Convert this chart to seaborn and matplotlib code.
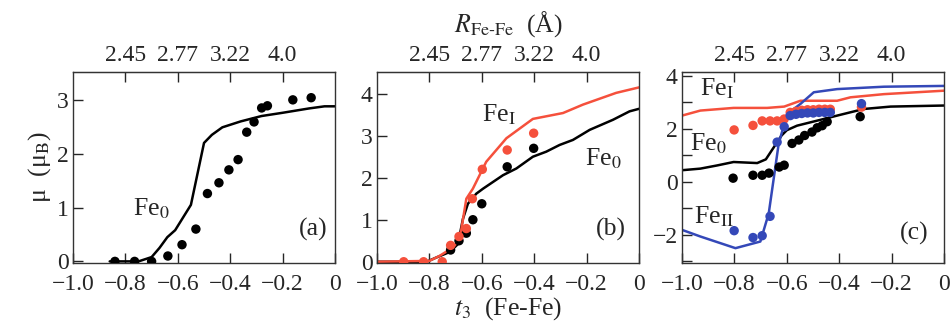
import matplotlib
matplotlib.use('Agg')
import matplotlib.pyplot as plt
import seaborn as sns

# ---------------- data ----------------
top_ticks = [-0.8, -0.6, -0.4, -0.2]
top_labels = ['2.45', '2.77', '3.22', '4.0']

# (a)
a_line_t = [-0.86, -0.75, -0.70, -0.67, -0.64, -0.61, -0.55, -0.50, -0.47, -0.43,
            -0.36, -0.28, -0.20, -0.10, -0.04, 0.0]
a_line_mu = [0, 0, 0.08, 0.25, 0.45, 0.58, 1.05, 2.2, 2.35, 2.49,
             2.6, 2.7, 2.76, 2.84, 2.88, 2.88]
a_dot_t = [-0.84, -0.765, -0.70, -0.638, -0.584, -0.531, -0.487, -0.443, -0.405,
           -0.370, -0.337, -0.309, -0.280, -0.258, -0.161, -0.091]
a_dot_mu = [0, 0, 0, 0.1, 0.31, 0.6, 1.26, 1.46, 1.70, 1.89, 2.40, 2.59, 2.85,
            2.89, 3.0, 3.04]

# (b)
b_red_line_t = [-1.0, -0.8, -0.761, -0.71, -0.684, -0.659, -0.634, -0.583, -0.506,
                -0.405, -0.29, -0.214, -0.087, 0.0]
b_red_line_mu = [0.0, 0.02, 0.14, 0.34, 0.54, 1.5, 1.74, 2.38, 2.94, 3.4, 3.54,
                 3.74, 4.02, 4.15]
b_blk_line_t = [-1.0, -0.81, -0.774, -0.723, -0.691, -0.672, -0.653, -0.621, -0.595,
                -0.519, -0.468, -0.405, -0.354, -0.303, -0.252, -0.188, -0.099,
                -0.036, 0.0]
b_blk_line_mu = [0.0, 0.0, 0.1, 0.23, 0.42, 1.02, 1.38, 1.62, 1.74, 2.06, 2.22,
                 2.5, 2.62, 2.78, 2.9, 3.14, 3.38, 3.58, 3.64]
b_red_dot_t = [-0.898, -0.822, -0.751, -0.719, -0.687, -0.659, -0.636, -0.598,
               -0.503, -0.402]
b_red_dot_mu = [0, 0, 0, 0.39, 0.6, 0.79, 1.5, 2.2, 2.66, 3.06]
b_blk_dot_t = [-0.719, -0.687, -0.659, -0.634, -0.600, -0.503, -0.402]
b_blk_dot_mu = [0.28, 0.5, 0.68, 1.0, 1.38, 2.26, 2.7]

# (c)
c_red_line_t = [-1.0, -0.93, -0.803, -0.675, -0.61, -0.548, -0.484, -0.408, -0.357,
                -0.229, 0.0]
c_red_line_mu = [2.5, 2.69, 2.79, 2.79, 2.84, 3.06, 3.06, 3.06, 3.19, 3.31, 3.44]
c_blue_line_t = [-1.0, -0.93, -0.796, -0.701, -0.669, -0.631, -0.599, -0.548,
                 -0.497, -0.408, -0.229, 0.0]
c_blue_line_mu = [-1.81, -2.06, -2.5, -2.25, -1.19, 1.44, 2.56, 2.94, 3.38, 3.5,
                  3.59, 3.62]
c_blk_line_t = [-1.0, -0.93, -0.866, -0.803, -0.713, -0.68, -0.65, -0.62, -0.6,
                -0.561, -0.484, -0.408, -0.306, -0.204, 0.0]
c_blk_line_mu = [0.44, 0.5, 0.62, 0.75, 0.71, 0.85, 1.3, 1.75, 1.95, 2.12, 2.31,
                 2.5, 2.75, 2.84, 2.88]
c_dot_t = [-0.801, -0.729, -0.694, -0.664, -0.637, -0.61, -0.587, -0.565, -0.543,
           -0.521, -0.499, -0.477, -0.455, -0.434, -0.315]
c_red_dot_mu = [1.96, 2.13, 2.3, 2.3, 2.3, 2.37, 2.62, 2.66, 2.7, 2.72, 2.72, 2.74,
                2.74, 2.74, 2.82]
c_blue_dot_mu = [-1.84, -2.1, -2.03, -1.3, 1.5, 2.08, 2.5, 2.55, 2.58, 2.6, 2.6,
                 2.62, 2.62, 2.62, 2.95]
c_blk_dot_t = [-0.805, -0.729, -0.694, -0.668, -0.629, -0.610, -0.58, -0.554,
               -0.532, -0.504, -0.484, -0.465, -0.446, -0.32]
c_blk_dot_mu = [0.14, 0.25, 0.25, 0.33, 0.56, 0.63, 1.45, 1.58, 1.75, 1.88, 2.04,
                2.12, 2.27, 2.46]

RED = '#f5503c'
BLUE = '#3448b8'
BLK = 'black'
TICK_FS = 17
LAB_FS = 18.5

sns.set_style('ticks')
plt.rcParams['font.family'] = ['Liberation Serif', 'DejaVu Serif']
plt.rcParams['mathtext.fontset'] = 'stix'

fig = plt.figure(figsize=(9.52, 3.33), dpi=100)
w, h, bot = 0.2752, 0.574, 0.2102
ax_a = fig.add_axes([0.0767, bot, w, h])
ax_b = fig.add_axes([0.396, bot, w, h])
ax_c = fig.add_axes([0.7164, bot, w, h])


def line(ax, t, mu, color):
    sns.lineplot(x=t, y=mu, ax=ax, color=color, lw=1.8, sort=False, zorder=2)


def dots(ax, t, mu, color):
    sns.scatterplot(x=t, y=mu, ax=ax, color=color, s=46, edgecolor='none',
                    linewidth=0, zorder=3)


# (a)
line(ax_a, a_line_t, a_line_mu, BLK)
dots(ax_a, a_dot_t, a_dot_mu, BLK)
ax_a.set_ylim(-0.03, 3.52)
ax_a.set_yticks([0, 1, 2, 3])
ax_a.set_yticklabels(['0', '1', '2', '3'])
ax_a.text(-0.77, 0.97, r'Fe$_0$', fontsize=LAB_FS, va='center')
ax_a.text(-0.03, 0.6, '(a)', fontsize=LAB_FS, va='center', ha='right')
ax_a.set_ylabel(r'μ  (μ$_{\rm B}$)', fontsize=LAB_FS, labelpad=3)

# (b)
line(ax_b, b_blk_line_t, b_blk_line_mu, BLK)
line(ax_b, b_red_line_t, b_red_line_mu, RED)
dots(ax_b, b_blk_dot_t, b_blk_dot_mu, BLK)
dots(ax_b, b_red_dot_t, b_red_dot_mu, RED)
ax_b.set_ylim(-0.03, 4.52)
ax_b.set_yticks([0, 1, 2, 3, 4])
ax_b.set_yticklabels(['0', '1', '2', '3', '4'])
ax_b.text(-0.60, 3.5, r'Fe$_{\rm I}$', fontsize=LAB_FS, va='center')
ax_b.text(-0.205, 2.46, r'Fe$_0$', fontsize=LAB_FS, va='center')
ax_b.text(-0.05, 0.78, '(b)', fontsize=LAB_FS, va='center', ha='right')
ax_b.set_xlabel(r'$t_3$  (Fe-Fe)', fontsize=LAB_FS, labelpad=0)

# (c)
line(ax_c, c_blk_line_t, c_blk_line_mu, BLK)
line(ax_c, c_red_line_t, c_red_line_mu, RED)
line(ax_c, c_blue_line_t, c_blue_line_mu, BLUE)
dots(ax_c, c_blk_dot_t, c_blk_dot_mu, BLK)
dots(ax_c, c_dot_t, c_red_dot_mu, RED)
dots(ax_c, c_dot_t, c_blue_dot_mu, BLUE)
ax_c.set_ylim(-3.06, 4.15)
ax_c.set_yticks([-3, -2, -1, 0, 1, 2, 3, 4])
ax_c.set_yticklabels(['', '−2', '', '0', '', '2', '', '4'])
ax_c.text(-0.932, 3.5, r'Fe$_{\rm I}$', fontsize=LAB_FS, va='center')
ax_c.text(-0.968, 1.44, r'Fe$_0$', fontsize=LAB_FS, va='center')
ax_c.text(-0.955, -1.31, r'Fe$_{\rm II}$', fontsize=LAB_FS, va='center')
ax_c.text(-0.06, -1.94, '(c)', fontsize=LAB_FS, va='center', ha='right')

for ax in (ax_a, ax_b, ax_c):
    ax.set_xlim(-1.0, 0.0)
    ax.set_xticks([-1.0, -0.8, -0.6, -0.4, -0.2, 0.0])
    ax.set_xticklabels(['−1.0', '−0.8', '−0.6', '−0.4', '−0.2', '0'])
    ax.tick_params(direction='in', length=7, width=1, labelsize=TICK_FS, pad=3)
    ax.tick_params(axis='x', pad=8)
    for sp in ax.spines.values():
        sp.set_linewidth(1)
        sp.set_color('#333333')
    sec = ax.secondary_xaxis('top')
    sec.set_xticks(top_ticks)
    sec.set_xticklabels(top_labels)
    sec.tick_params(direction='in', length=7, width=1, labelsize=TICK_FS, pad=4)

pos_b = ax_b.get_position()
fig.text((pos_b.x0 + pos_b.x1) / 2, 0.928, r'$R_{\mathrm{Fe\text{-}Fe}}$  (Å)',
         fontsize=LAB_FS, ha='center', va='center')

fig.savefig('out.png', dpi=100)
